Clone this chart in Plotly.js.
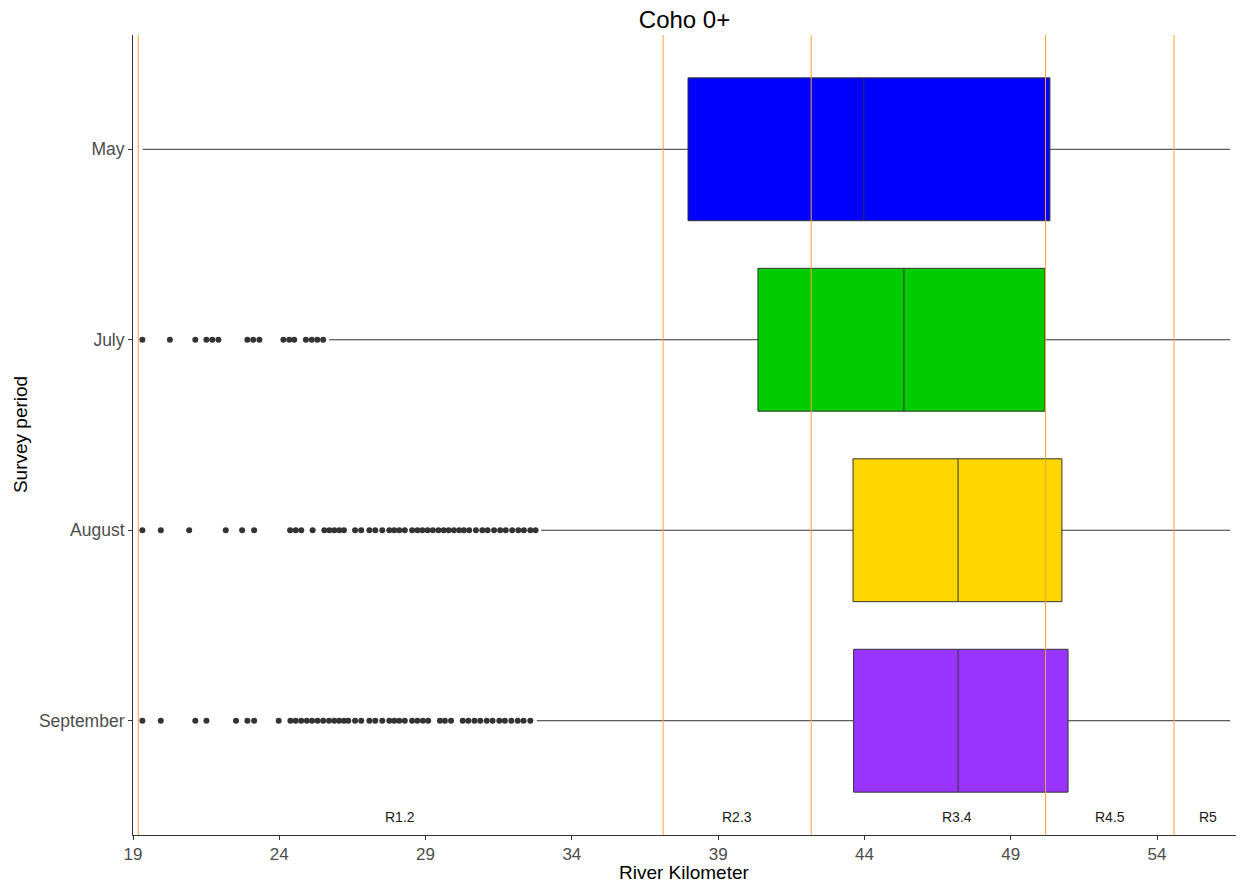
<!DOCTYPE html>
<html>
<head>
<meta charset="utf-8">
<script src="https://cdn.plot.ly/plotly-3.0.1.min.js"></script>
<style>html,body{margin:0;padding:0;background:#fff;}#chart{width:1241px;height:883px;}</style>
</head>
<body>
<div id="chart"></div>
<script>
// Categories (top to bottom in the chart)
const periods = ['May', 'July', 'August', 'September'];
const boxColors = ['#0000FF', '#00CC00', '#FFD700', '#9933FF'];

// Box statistics (River Kilometer)
const q1 = [37.97, 40.36, 43.61, 43.63];
const median = [43.98, 45.35, 47.20, 47.20];
const q3 = [50.34, 50.17, 50.75, 50.96];
const lowerWhisker = [19.33, 25.70, 32.95, 32.80];
const upperWhisker = [56.50, 56.50, 56.50, 56.50];

// Outliers
const outMay = [];
const outJuly = [19.32, 20.26, 21.13, 21.51, 21.71, 21.92, 22.91, 23.11, 23.32, 24.14, 24.34, 24.51, 24.91, 25.11, 25.30, 25.50];
const outAugust = [19.32, 19.95, 20.92, 22.17, 22.73, 23.14, 24.37, 24.56, 24.75, 25.14, 25.54, 25.71, 25.88, 26.05, 26.21,
  26.59, 26.80, 27.08, 27.28, 27.52, 27.76, 27.93, 28.10, 28.29, 28.54, 28.72, 28.89, 29.07, 29.25, 29.44, 29.62, 29.79,
  29.97, 30.15, 30.31, 30.49, 30.72, 30.94, 31.12, 31.34, 31.55, 31.74, 31.96, 32.17, 32.36, 32.58, 32.76];
const outSeptember = [19.32, 19.95, 21.13, 21.51, 22.52, 22.91, 23.14, 23.98, 24.38, 24.56, 24.75, 24.94, 25.12, 25.31,
  25.50, 25.70, 25.88, 26.05, 26.21, 26.36, 26.59, 26.80, 27.08, 27.28, 27.52, 27.76, 27.93, 28.10, 28.29, 28.54, 28.72,
  28.91, 29.09, 29.49, 29.66, 29.87, 30.27, 30.46, 30.67, 30.87, 31.09, 31.29, 31.52, 31.71, 31.93, 32.15, 32.35, 32.58];
const outliers = [outMay, outJuly, outAugust, outSeptember];

// Reach breaks and labels
const reachBreaks = [19.18, 37.12, 42.18, 50.19, 54.58];
const reachLabels = ['R1.2', 'R2.3', 'R3.4', 'R4.5', 'R5'];
const reachLabelPos = [28.13, 39.63, 47.17, 52.39, 55.74];

const xTicks = [19, 24, 29, 34, 39, 44, 49, 54];

const FONT = 'Liberation Sans, Arial, sans-serif';

const traces = [];
periods.forEach((p, i) => {
  traces.push({
    type: 'box',
    orientation: 'h',
    y: [p],
    q1: [q1[i]],
    median: [median[i]],
    q3: [q3[i]],
    lowerfence: [lowerWhisker[i]],
    upperfence: [upperWhisker[i]],
    width: 0.75,
    whiskerwidth: 0,
    boxpoints: false,
    fillcolor: boxColors[i],
    line: {color: '#333333', width: 1},
    showlegend: false,
    hoverinfo: 'skip'
  });
});
periods.forEach((p, i) => {
  if (outliers[i].length === 0) return;
  traces.push({
    type: 'scatter',
    mode: 'markers',
    x: outliers[i],
    y: outliers[i].map(() => p),
    marker: {color: '#333333', size: 6},
    showlegend: false,
    hoverinfo: 'skip'
  });
});

const shapes = reachBreaks.map(v => ({
  type: 'line', xref: 'x', yref: 'paper', x0: v, x1: v, y0: 0, y1: 1,
  line: {color: '#FFA033', width: 1}, layer: 'above'
}));

const annotations = reachLabels.map((t, i) => ({
  text: t, xref: 'x', yref: 'paper', x: reachLabelPos[i], y: 0.022,
  showarrow: false, xanchor: 'center', yanchor: 'middle',
  font: {family: FONT, size: 14, color: '#1a1a1a'}
}));
// Axis titles placed as annotations for precise positioning
annotations.push({
  text: 'River Kilometer', xref: 'paper', yref: 'paper', x: 0.5, y: -0.047,
  showarrow: false, xanchor: 'center', yanchor: 'middle',
  font: {family: FONT, size: 19, color: '#000000'}
});
annotations.push({
  text: 'Survey period', xref: 'paper', yref: 'paper', x: -0.1024, y: 0.5, textangle: -90,
  showarrow: false, xanchor: 'center', yanchor: 'middle',
  font: {family: FONT, size: 19, color: '#000000'}
});

const layout = {
  width: 1241, height: 883,
  margin: {l: 133, r: 5, t: 35, b: 48},
  paper_bgcolor: '#ffffff', plot_bgcolor: '#ffffff',
  boxmode: 'overlay',
  title: {text: 'Coho 0+', x: 0.5, xref: 'paper', xanchor: 'center', y: 0.978, yanchor: 'middle',
          font: {family: FONT, size: 24, color: '#000000'}},
  xaxis: {
    range: [19, 56.7], tickvals: xTicks, ticktext: xTicks.map(String),
    showgrid: false, zeroline: false, showline: true, linecolor: '#333333', linewidth: 1,
    ticks: 'outside', ticklen: 4, tickcolor: '#333333',
    tickfont: {family: FONT, size: 17, color: '#4d4d4d'}
  },
  yaxis: {
    type: 'category', categoryorder: 'array', categoryarray: periods.slice().reverse(),
    range: [-0.6, 3.6],
    showgrid: false, zeroline: false, showline: true, linecolor: '#333333', linewidth: 1,
    ticks: 'outside', ticklen: 4, tickcolor: '#333333',
    tickfont: {family: FONT, size: 17.5, color: '#4d4d4d'}
  },
  shapes: shapes,
  annotations: annotations
};

Plotly.newPlot('chart', traces, layout, {displayModeBar: false, staticPlot: true});
</script>
</body>
</html>
